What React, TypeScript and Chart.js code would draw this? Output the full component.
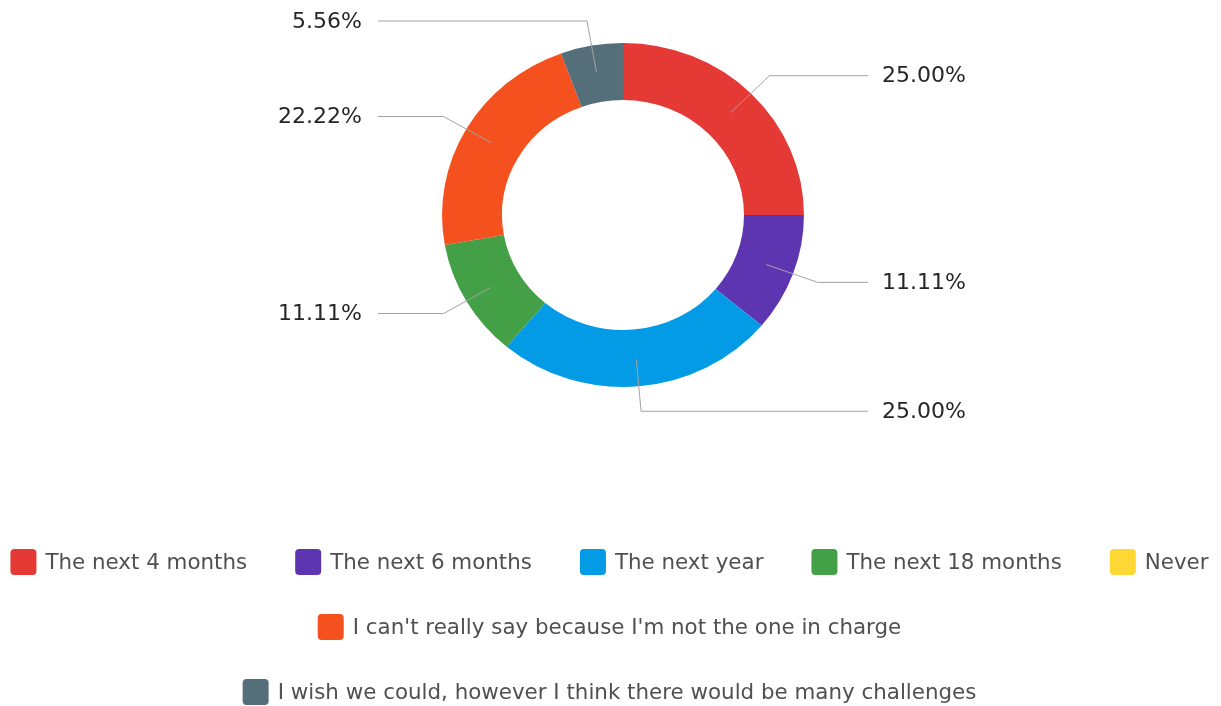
import React, { useEffect, useRef } from "react";
import { Chart, registerables } from "chart.js";

Chart.register(...registerables);

// ---- data ----
const categories = [
  "The next 4 months",
  "The next 6 months",
  "The next year",
  "The next 18 months",
  "Never",
  "I can't really say because I'm not the one in charge",
  "I wish we could, however I think there would be many challenges",
];
const shares = [25.0, 11.11, 25.0, 11.11, 0, 22.22, 5.56];
const percentLabels = ["25.00%", "11.11%", "25.00%", "11.11%", "0.00%", "22.22%", "5.56%"];
const colors = ["#E53935", "#5E35B1", "#039BE5", "#43A047", "#FDD835", "#F4511E", "#546E7A"];

// ---- layout ----
const W = 1221;
const H = 706;
const CX = 623;
const CY = 215;
const R = 172;
const RIN = 115;
const SX = 1.052;

const LABEL_FONT = "22px 'DejaVu Sans'";
const LEGEND_FONT = "21.4px 'DejaVu Sans'";

const ellipsePlugin = {
  id: "ellipse",
  beforeDatasetsDraw(chart: any) {
    const a = chart.getDatasetMeta(0).data[0];
    const ctx = chart.ctx;
    ctx.save();
    ctx.translate(a.x, a.y);
    ctx.scale(SX, 1);
    ctx.translate(-a.x, -a.y);
  },
  afterDatasetsDraw(chart: any) {
    chart.ctx.restore();
  },
};

const leaderPlugin = {
  id: "leaders",
  afterDraw(chart: any) {
    const ctx = chart.ctx;
    const meta = chart.getDatasetMeta(0);
    ctx.save();
    meta.data.forEach((arc: any, i: number) => {
      if (!(shares[i] > 0)) return;
      const mid = (arc.startAngle + arc.endAngle) / 2;
      const c = Math.cos(mid);
      const s = Math.sin(mid);
      const r1 = 145;
      const r2 = 197;
      const x1 = arc.x + c * r1 * SX;
      const y1 = arc.y + s * r1;
      const x2 = arc.x + c * r2 * SX;
      const y2 = arc.y + s * r2;
      const right = c >= 0;
      const x3 = right ? arc.x + 245 : arc.x - 245;
      ctx.strokeStyle = "#a3a3a3";
      ctx.lineWidth = 1;
      ctx.beginPath();
      ctx.moveTo(x1, y1);
      ctx.lineTo(x2, y2);
      ctx.lineTo(x3, y2);
      ctx.stroke();
      ctx.font = LABEL_FONT;
      ctx.fillStyle = "#262626";
      ctx.textBaseline = "middle";
      ctx.textAlign = right ? "left" : "right";
      ctx.fillText(percentLabels[i], right ? x3 + 14 : x3 - 16, y2 + 1);
    });
    ctx.restore();
  },
};

const legendPlugin = {
  id: "customLegend",
  afterDraw(chart: any) {
    const ctx = chart.ctx;
    const BOX = 26;
    const BOXGAP = 9;
    const GAP = 48;
    const maxW = W - 12;
    ctx.save();
    ctx.font = LEGEND_FONT;
    const items = categories.map((t, i) => ({
      text: t,
      color: colors[i],
      w: BOX + BOXGAP + ctx.measureText(t).width,
    }));
    const rows: any[][] = [];
    let cur: any[] = [];
    let curW = 0;
    items.forEach((it) => {
      const add = cur.length ? GAP + it.w : it.w;
      if (cur.length && curW + add > maxW) {
        rows.push(cur);
        cur = [it];
        curW = it.w;
      } else {
        cur.push(it);
        curW += add;
      }
    });
    if (cur.length) rows.push(cur);
    rows.forEach((row, ri) => {
      const rw = row.reduce((a, it) => a + it.w, 0) + GAP * (row.length - 1);
      let x = 609.5 - rw / 2;
      const y = 562 + ri * 65;
      row.forEach((it) => {
        ctx.fillStyle = it.color;
        ctx.beginPath();
        (ctx as any).roundRect(x, y - BOX / 2, BOX, BOX, 4);
        ctx.fill();
        ctx.fillStyle = "#505050";
        ctx.textAlign = "left";
        ctx.textBaseline = "middle";
        ctx.fillText(it.text, x + BOX + BOXGAP, y + 1);
        x += it.w + GAP;
      });
    });
    ctx.restore();
  },
};

export default function App() {
  const ref = useRef<HTMLCanvasElement | null>(null);
  useEffect(() => {
    if (!ref.current) return;
    const chart = new Chart(ref.current, {
      type: "doughnut",
      data: {
        labels: categories,
        datasets: [
          {
            data: shares,
            backgroundColor: colors,
            borderWidth: 0,
          },
        ],
      },
      options: {
        responsive: false,
        animation: false,
        devicePixelRatio: 1,
        cutout: RIN,
        layout: {
          padding: {
            top: CY - R,
            bottom: H - (CY + R),
            left: CX - R,
            right: W - (CX + R),
          },
        },
        plugins: {
          legend: { display: false },
          tooltip: { enabled: false },
        },
      } as any,
      plugins: [ellipsePlugin, leaderPlugin, legendPlugin],
    });
    return () => chart.destroy();
  }, []);
  return (
    <div style={{ position: "absolute", left: 0, top: 0, width: W, height: H, background: "#fff", overflow: "hidden" }}>
      <canvas ref={ref} width={W} height={H} style={{ display: "block", width: W, height: H }} />
    </div>
  );
}
